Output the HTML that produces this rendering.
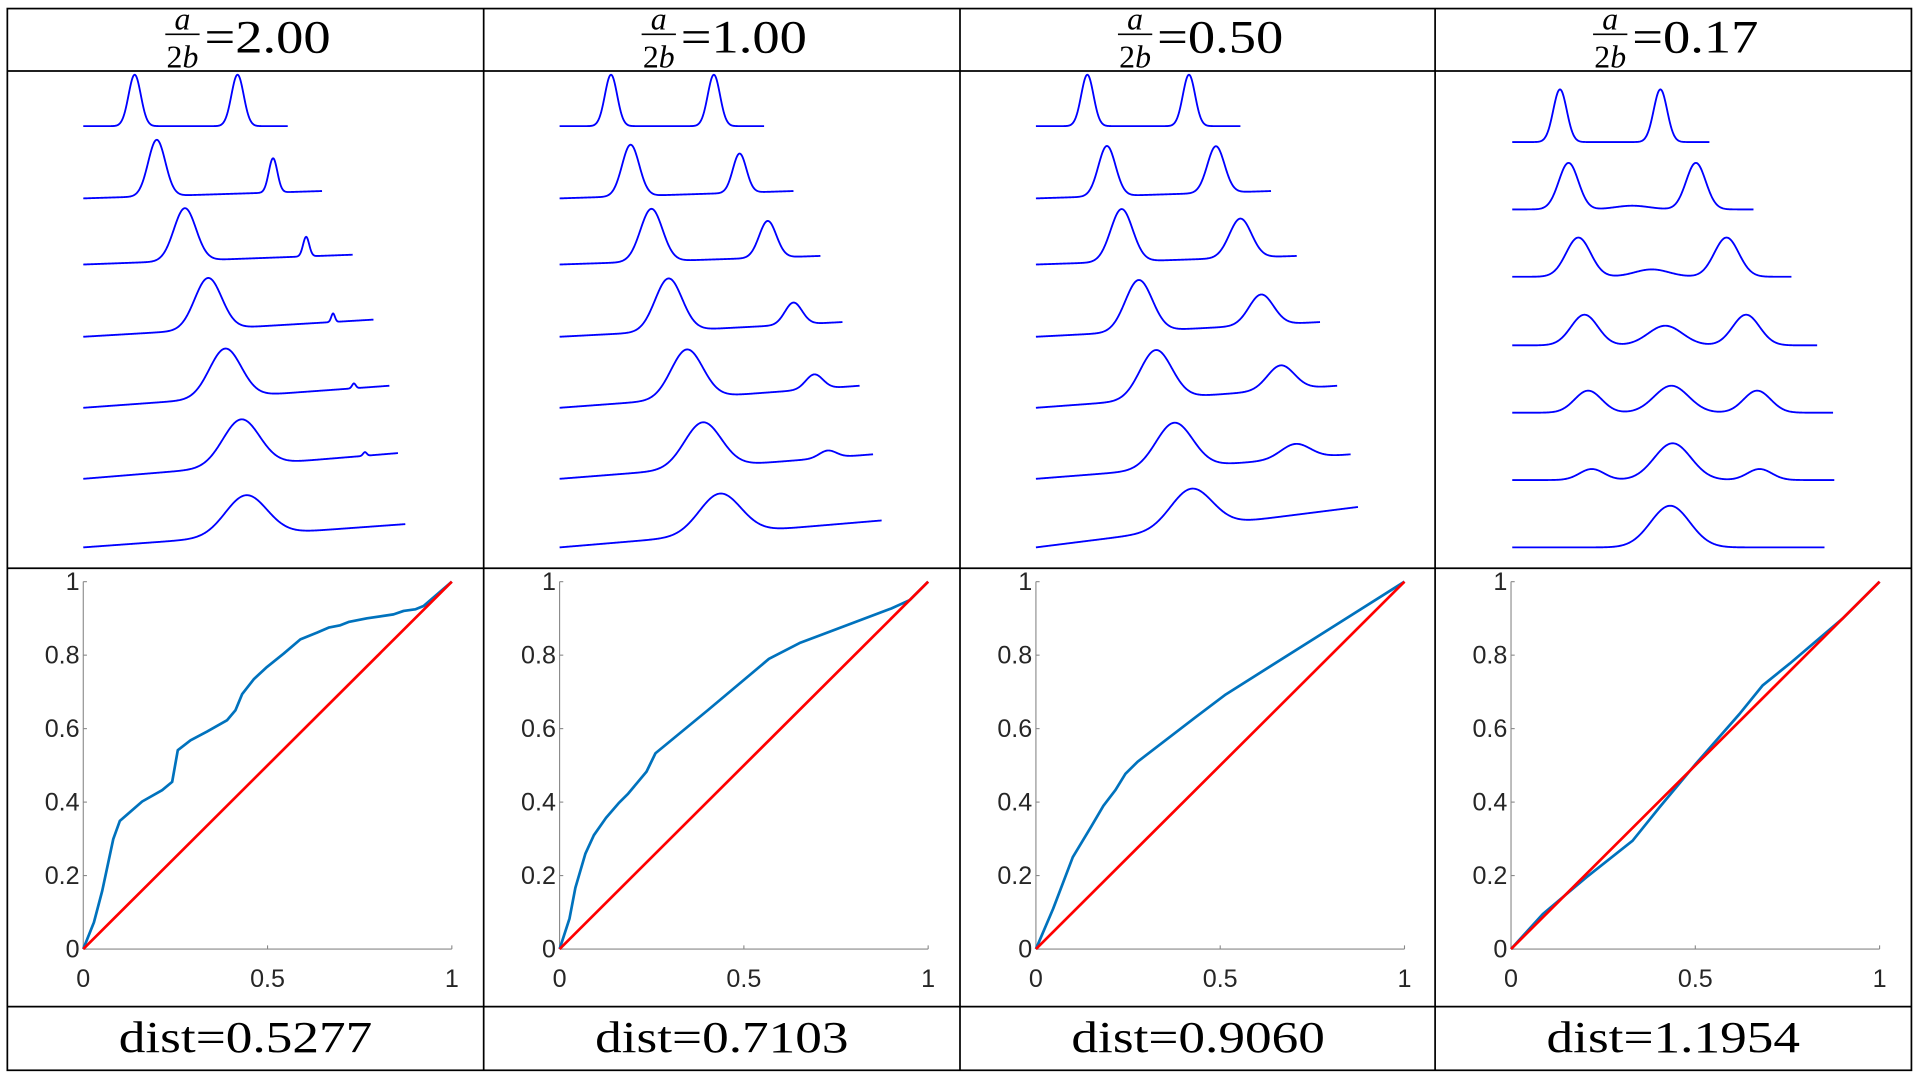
<!DOCTYPE html>
<html><head><meta charset="utf-8"><style>
html,body{margin:0;padding:0;background:#fff;}
svg{display:block;}
</style></head><body>
<svg id="s" width="1920" height="1078" viewBox="0 0 1568 880.3" preserveAspectRatio="none" xmlns="http://www.w3.org/2000/svg">
<rect x="0" y="0" width="1568" height="880.3" fill="#fff"/>
</svg>
<script>
const S=document.getElementById('s');const NS='http://www.w3.org/2000/svg';
function el(t,a,txt){const e=document.createElementNS(NS,t);for(const k in a)e.setAttribute(k,a[k]);if(txt!==undefined)e.textContent=txt;S.appendChild(e);return e;}
const cols=[6,395,784,1172];
const L={stroke:'#000','stroke-width':1.4,fill:'none'};
el('rect',Object.assign({x:6,y:7,width:1555,height:867},L));
[58,464,822].forEach(y=>el('line',Object.assign({x1:6,x2:1561,y1:y,y2:y},L)));
[395,784,1172].forEach(x=>el('line',Object.assign({x1:x,x2:x,y1:7,y2:874},L)));
const titles=['2.00','1.00','0.50','0.17'];
const dists=['0.5277','0.7103','0.9060','1.1954'];
const SF='"Liberation Serif", serif';
cols.forEach((c,i)=>{
  const fx=c+143;
  el('text',{x:fx,y:24,'font-family':SF,'font-style':'italic','font-size':26,'text-anchor':'middle'},'a');
  el('line',{x1:fx-14,x2:fx+14,y1:28,y2:28,stroke:'#000','stroke-width':1.3});
  el('text',{x:fx,y:55,'font-family':SF,'font-size':26,'text-anchor':'middle'}).innerHTML='2<tspan font-style="italic">b</tspan>';
  el('text',{x:c+161,y:43,'font-family':SF,'font-size':38,textLength:103,lengthAdjust:'spacingAndGlyphs'},'='+titles[i]);
  el('text',{x:c+91,y:859,'font-family':SF,'font-size':36,textLength:207,lengthAdjust:'spacingAndGlyphs'},'dist='+dists[i]);
});
const R=[
[[62,229,103,103,[[104,5,42],[188,5,42]]],
 [62,257,162,156,[[122,7,46],[217,3.5,28]]],
 [62,282,216,208,[[145,9,43],[244,2.5,16]]],
 [62,299,275,261,[[164,11,42],[266,1.5,7]]],
 [62,312,333,315,[[178,13,40],[283,1.5,4]]],
 [62,319,391,370,[[191,15,38],[292,1.5,3]]],
 [62,325,447,428,[[195,17,33]]]],
[[62,229,103,103,[[104,5,42],[188,5,42]]],
 [62,253,162,156,[[120,7,42],[209,5.5,32]]],
 [62,275,216,209,[[137,9,43],[232,7,30]]],
 [62,293,275,263,[[151,11,43],[253,7,18]]],
 [62,307,333,315,[[166,13,40],[270,7,12]]],
 [62,318,391,371,[[179,15,37],[281,7,6]]],
 [62,325,447,425,[[193,17,33]]]],
[[62,229,103,103,[[104,5,42],[187,5,42]]],
 [62,254,162,156,[[120,7,41],[209,7,38]]],
 [62,275,216,209,[[132,9,43],[229,9,32]]],
 [62,294,275,263,[[146,11,42],[246,10,25]]],
 [62,308,333,315,[[160,13,40],[262,11,20]]],
 [62,319,391,371,[[175,15,37],[274,12,12]]],
 [62,325,447,414,[[189,17,32]]]],
[[63,224,116,116,[[102,5.5,43],[184,5.5,43]]],
 [63,260,171,171,[[109,8,38],[213,8,38],[161,14,3]]],
 [63,291,226,226,[[117,10,32],[238,10,32],[177,14,6]]],
 [63,312,282,282,[[122,11,25],[188,14,16],[254,11,25]]],
 [63,325,337,337,[[125,11,18],[193,14,22],[263,11,18]]],
 [63,326,392,392,[[128,10,9],[194,15,30],[265,10,9]]],
 [63,318,447,447,[[192,16,34]]]]];
R.forEach((rows,i)=>{const c=cols[i];rows.forEach(r=>{
  const [a,b,yl,yr,g]=r;let d='';
  for(let x=a;x<=b;x+=0.5){const t=(x-a)/(b-a);let y=yl+(yr-yl)*t;g.forEach(([m,s,h])=>{y-=h*Math.exp(-((x-m)**2)/(2*s*s));});d+=(x===a?'M':'L')+(c+x).toFixed(1)+' '+y.toFixed(2);}
  el('path',{d:d,stroke:'#0000ff','stroke-width':1.5,fill:'none'});
});});
const raw1=[[248,1165],[280,1085],[305,990],[338,835],[358,780],[425,722],[485,688],[515,663],[532,568],[570,538],[620,512],[680,478],[705,448],[725,400],[760,355],[800,318],[850,278],[900,235],[950,215],[985,200],[1020,193],[1045,183],[1100,172],[1180,160],[1210,150],[1245,145],[1270,135],[1355,62]];
const P=[raw1.map(([x,y])=>[(x-248)/1107,(1165-y)/1103]),
[[0,0],[.027,.083],[.043,.167],[.07,.26],[.093,.31],[.126,.357],[.16,.397],[.186,.423],[.236,.483],[.26,.533],[.402,.65],[.568,.79],[.651,.833],[.9,.927],[.95,.95],[1,1]],
[[0,0],[.047,.11],[.1,.25],[.15,.333],[.183,.39],[.216,.433],[.243,.477],[.276,.51],[.432,.63],[.515,.693],[1,1]],
[[0,0],[.086,.095],[.204,.195],[.33,.295],[.403,.386],[.502,.505],[.62,.64],[.683,.718],[.756,.777],[.9,.9],[1,1]]];
const FF='"Liberation Sans", sans-serif';
cols.forEach((c,i)=>{
  const x0=c+62,x1=c+363,y0=775,y1=475,W=x1-x0,H=y0-y1;
  const ax={stroke:'#888','stroke-width':0.9};
  el('line',Object.assign({x1:x0,x2:x1,y1:y0,y2:y0},ax));
  el('line',Object.assign({x1:x0,x2:x0,y1:y0,y2:y1},ax));
  [0,.2,.4,.6,.8,1].forEach(v=>{const y=y0-v*H;el('line',Object.assign({x1:x0,x2:x0+3,y1:y,y2:y},ax));
    el('text',{x:x0-3,y:y+7,'font-family':FF,'font-size':20.5,fill:'#262626','text-anchor':'end'},String(v));});
  [0,.5,1].forEach(v=>{const x=x0+v*W;el('line',Object.assign({x1:x,x2:x,y1:y0,y2:y0-3},ax));
    el('text',{x:x,y:806,'font-family':FF,'font-size':20.5,fill:'#262626','text-anchor':'middle'},String(v));});
  el('polyline',{points:P[i].map(([a,b])=>(x0+a*W).toFixed(1)+','+(y0-b*H).toFixed(1)).join(' '),stroke:'#0072BD','stroke-width':2.2,fill:'none','stroke-linejoin':'round'});
  el('line',{x1:x0,y1:y0,x2:x1,y2:y1,stroke:'#ff0000','stroke-width':2.2});
});
</script>
</body></html>
